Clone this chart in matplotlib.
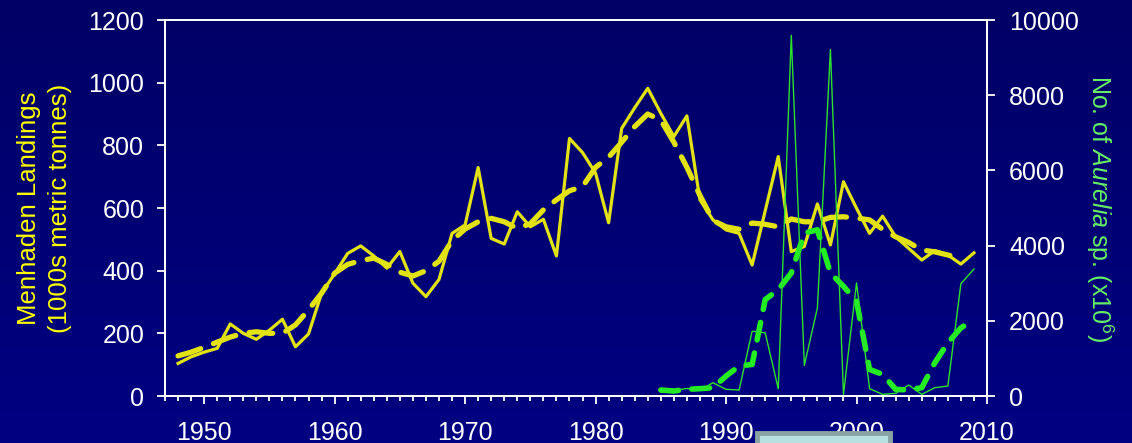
import numpy as np
import matplotlib
matplotlib.use('Agg')
import matplotlib.pyplot as plt
from matplotlib.ticker import MultipleLocator
from matplotlib.patches import Rectangle

plt.rcParams['font.family'] = ['Liberation Sans', 'DejaVu Sans']
plt.rcParams['mathtext.fontset'] = 'custom'
plt.rcParams['mathtext.rm'] = 'Liberation Sans'
plt.rcParams['mathtext.it'] = 'Liberation Sans:italic'

# Menhaden landings (1000s metric tonnes), annual
land_years = list(range(1948, 2010))
landings = [104, 125, 140, 152, 230, 200, 181, 210, 245, 157, 198, 328,
            390, 455, 479, 447, 408, 461, 360, 317, 372, 519, 546, 729,
            503, 485, 588, 540, 564, 447, 822, 777, 711, 553, 854, 920,
            982, 902, 828, 894, 626, 562, 530, 519, 418, 591, 764, 461,
            477, 613, 482, 684, 599, 519, 574, 508, 471, 434, 464, 450,
            421, 457]

# Smoothed landings (dashed)
smooth_years = list(range(1948, 2009))
land_smooth = [128, 140, 155, 172, 188, 200, 205, 200, 200, 227, 275, 328,
               392, 420, 432, 440, 420, 395, 383, 400, 430, 496, 533, 556,
               567, 556, 535, 550, 594, 626, 655, 668, 730, 762, 810, 860,
               900, 880, 810, 730, 640, 560, 540, 532, 552, 548, 540, 565,
               556, 556, 570, 572, 568, 562, 532, 508, 490, 466, 460, 450,
               440]

# Aurelia sp. counts (x10^6)
aur_years = list(range(1985, 2010))
aurelia = [100, 150, 200, 150, 354, 177, 159, 1724, 1680, 195, 9593, 813,
           2343, 9213, 44, 3006, 195, 44, 71, 292, 44, 221, 265, 2988, 3377]
aur_smooth = [159, 133, 177, 195, 221, 530, 796, 840, 2564, 2829, 3271, 4332,
              4421, 3271, 2918, 2520, 707, 575, 177, 159, 221, 884, 1415, 1812,
              2034]

fig = plt.figure(figsize=(11.32, 4.43), dpi=100)

# gradient background over the whole figure
bg = fig.add_axes([0, 0, 1, 1], zorder=-10)
grad = np.linspace(0, 1, 256).reshape(-1, 1)
bg.imshow(grad, aspect='auto', extent=[0, 1, 0, 1], origin='upper',
          cmap=matplotlib.colors.LinearSegmentedColormap.from_list('bg', ['#000066', '#000082']))
bg.axis('off')

ax = fig.add_axes([165 / 1132, 1 - 396 / 443, (987 - 165) / 1132, (396 - 20) / 443])
ax.patch.set_alpha(0)
ax2 = ax.twinx()

yellow = '#E2E214'
ax.plot(land_years, landings, color=yellow, lw=2.3, zorder=3)
ax.plot(smooth_years, land_smooth, color=yellow, lw=3.8, dashes=(4.5, 2.6),
        dash_capstyle='round', zorder=2)

ax2.plot(aur_years, aurelia, color='#2EE02E', lw=1.0, zorder=3)
ax2.plot(aur_years, aur_smooth, color='#22EE22', lw=4.0, dashes=(3.2, 2.4),
         dash_capstyle='round', zorder=2)

ax.set_xlim(1947, 2010)
ax.set_ylim(0, 1200)
ax2.set_ylim(0, 10000)
ax.xaxis.set_major_locator(MultipleLocator(10))
ax.xaxis.set_minor_locator(MultipleLocator(1))
ax.yaxis.set_major_locator(MultipleLocator(200))
ax2.yaxis.set_major_locator(MultipleLocator(2000))

for a in (ax, ax2):
    for s in a.spines.values():
        s.set_color('white')
        s.set_linewidth(1.3)
    a.tick_params(colors='white', labelsize=18, width=1.3)

ax.tick_params(axis='x', which='major', length=6, pad=12)
ax.tick_params(axis='x', which='minor', length=3.6, width=1.3, color='white')
ax.tick_params(axis='y', length=6, pad=9)
ax2.tick_params(axis='y', length=6, pad=10)

ax.set_ylabel('Menhaden Landings\n(1000s metric tonnes)', color='#FFFF00',
              fontsize=18.5, linespacing=1.35, labelpad=12)
ax2.set_ylabel('No. of $\\mathit{Aurelia}$ sp. (x10$^{6}$)', color='#66EE66',
               fontsize=18, rotation=270, labelpad=26)

# partly hidden box at the bottom edge
fig.patches.append(Rectangle((757 / 1132, -0.02), 133 / 1132, 19 / 443,
                             transform=fig.transFigure, facecolor='#B8E0E0',
                             edgecolor='#8AA4A4', lw=3.5, zorder=20))

fig.savefig('out.png', dpi=100)
